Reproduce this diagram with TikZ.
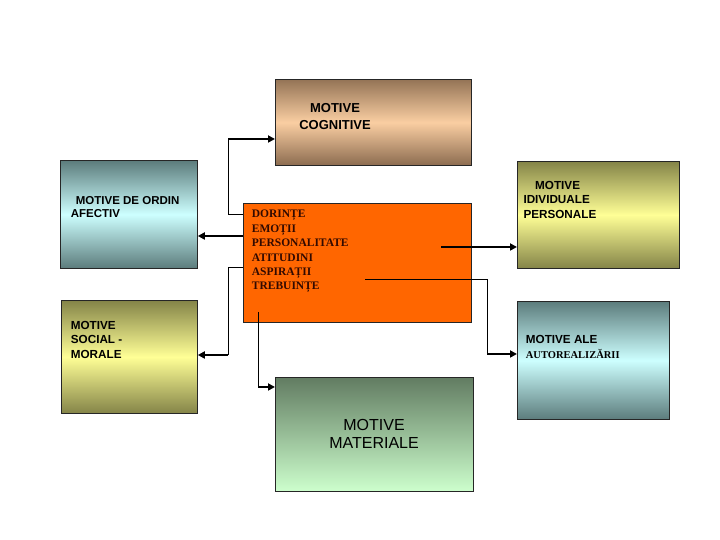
\documentclass[tikz,border=0pt]{standalone}
\usepackage{fontspec}
\setmainfont{Liberation Sans}
\newfontfamily\serifb{Liberation Serif}
\usetikzlibrary{arrows.meta}
\definecolor{cogTop}{RGB}{148,116,86}
\definecolor{cogMid}{RGB}{250,206,162}
\definecolor{cogBot}{RGB}{140,108,80}
\definecolor{cyTop}{RGB}{92,124,124}
\definecolor{cyMid}{RGB}{205,255,255}
\definecolor{olTop}{RGB}{132,132,72}
\definecolor{olMid}{RGB}{255,255,150}
\definecolor{grTop}{RGB}{98,124,98}
\definecolor{grBot}{RGB}{205,255,205}
\definecolor{orangeC}{RGB}{255,102,0}
\definecolor{darkTxt}{RGB}{50,10,0}
\tikzset{
  box/.style={draw=black!85, line width=0.8pt, rectangle, anchor=north west, inner sep=0pt},
  thinline/.style={line width=0.8pt, black},
  arr/.style={line width=2pt, black, -{Triangle[length=7pt,width=7pt]}},
  lbl/.style={inner sep=0pt, align=left, anchor=base west},
}
\begin{document}
\begin{tikzpicture}[x=1pt,y=1pt]
\useasboundingbox (0,0) rectangle (720,540);
% boxes
\node[box, minimum width=196pt, minimum height=86pt, top color=cogTop, bottom color=cogBot, middle color=cogMid] (cog) at (275,461) {};
\node[box, minimum width=137pt, minimum height=108pt, top color=cyTop, bottom color=cyTop, middle color=cyMid] (afe) at (60,380) {};
\node[box, minimum width=228pt, minimum height=119pt, fill=orangeC] (cen) at (243,337) {};
\node[box, minimum width=162pt, minimum height=107pt, top color=olTop, bottom color=olTop, middle color=olMid] (ind) at (517,379) {};
\node[box, minimum width=136pt, minimum height=113pt, top color=olTop, bottom color=olTop, middle color=olMid] (soc) at (61,240) {};
\node[box, minimum width=152pt, minimum height=118pt, top color=cyTop, bottom color=cyTop, middle color=cyMid] (aut) at (517,239) {};
\node[box, minimum width=198pt, minimum height=114pt, top color=grTop, bottom color=grBot] (mat) at (275,163) {};
% texts (anchor = baseline of last line)
\node[inner sep=0pt, align=center, anchor=base, font=\bfseries\fontsize{13}{17.5}\selectfont] (tcog) at (335,410) {MOTIVE\\COGNITIVE};
\node[lbl, font=\bfseries\fontsize{11.5}{12.7}\selectfont] (tafe) at (70.7,322.3) {\hspace{5pt}MOTIVE DE ORDIN\\AFECTIV};
\node[lbl, text=darkTxt, font=\serifb\bfseries\fontsize{11.5}{14.4}\selectfont] (tcen) at (251.7,250) {DORINȚE\\EMOȚII\\PERSONALITATE\\ATITUDINI\\ASPIRAȚII\\TREBUINȚE};
\node[lbl, font=\bfseries\fontsize{11.7}{14.5}\selectfont] (tind) at (523.3,321.5) {\hspace{11.7pt}MOTIVE\\IDIVIDUALE\\PERSONALE};
\node[lbl, font=\bfseries\fontsize{11.7}{14.5}\selectfont] (tsoc) at (70.7,181.5) {MOTIVE\\SOCIAL -\\MORALE};
\node[lbl, font=\bfseries\fontsize{11.7}{14.3}\selectfont] (taut) at (525.7,181.7) {MOTIVE ALE\\{\serifb\fontsize{10.5}{14.3}\selectfont AUTOREALIZĂRII}};
\node[inner sep=0pt, align=center, anchor=base, font=\fontsize{16}{18}\selectfont] (tmat) at (374,91) {MOTIVE\\MATERIALE};
% connector coordinates
\coordinate (a1) at (228,326);
\coordinate (a2) at (228,401);
\coordinate (b1) at (220,304);
\coordinate (c1) at (228,273);
\coordinate (c2) at (228,185);
\coordinate (d1) at (258,228);
\coordinate (d2) at (258,153);
\coordinate (e1) at (441,293);
\coordinate (f1) at (365,261);
\coordinate (f2) at (487,261);
\coordinate (f3) at (487,186);
% connectors
\draw[thinline] (a1 -| cen.west) -- (a1) -- (a2);
\draw[arr] (a2) -- (a2 -| cog.west);
\draw[arr] (b1 -| cen.west) -- (b1 -| afe.east);
\draw[thinline] (c1 -| cen.west) -- (c1) -- (c2);
\draw[arr] (c2) -- (c2 -| soc.east);
\draw[thinline] (d1) -- (d2);
\draw[arr] (d2) -- (d2 -| mat.west);
\draw[arr] (e1) -- (e1 -| ind.west);
\draw[thinline] (f1) -- (f2) -- (f3);
\draw[arr] (f3) -- (f3 -| aut.west);
\end{tikzpicture}
\end{document}
